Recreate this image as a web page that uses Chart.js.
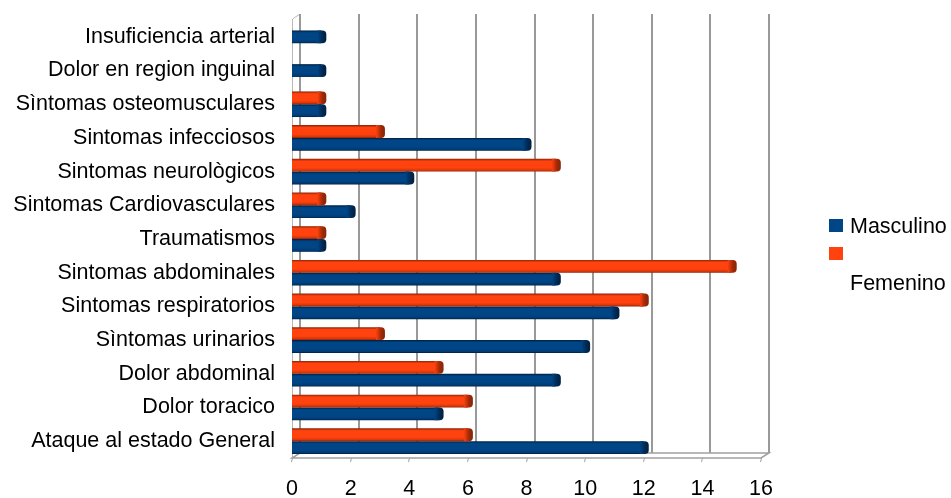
<!DOCTYPE html>
<html>
<head>
<meta charset="utf-8">
<script src="https://cdn.jsdelivr.net/npm/chart.js@4/dist/chart.umd.min.js"></script>
<style>
  html, body { margin: 0; padding: 0; background: #ffffff; }
  #wrap { position: relative; width: 951px; height: 498px; }
  canvas { position: absolute; left: 0; top: 0; }
  .lg { position: absolute; font-family: "Liberation Sans", Arial, sans-serif; font-size: 21.5px; color: #000; line-height: 1; }
  .sw { position: absolute; width: 14px; height: 13px; }
</style>
</head>
<body>
<div id="wrap">
  <canvas id="c" width="951" height="498"></canvas>
  <div class="sw" style="left:829px; top:219px; background:#004586;"></div>
  <div class="lg" style="left:850px; top:216px;">Masculino</div>
  <div class="sw" style="left:829px; top:247px; background:#ff420e;"></div>
  <div class="lg" style="left:850px; top:273px;">Femenino</div>
</div>
<script>
// Motivos de consulta por sexo
const categories = [
  'Insuficiencia arterial',
  'Dolor en region inguinal',
  'Sìntomas osteomusculares',
  'Sintomas infecciosos',
  'Sintomas neurològicos',
  'Sintomas Cardiovasculares',
  'Traumatismos',
  'Sintomas abdominales',
  'Sintomas respiratorios',
  'Sìntomas urinarios',
  'Dolor abdominal',
  'Dolor toracico',
  'Ataque al estado General'
];
const masculino = [1, 1, 1, 8, 4, 2, 1, 9, 11, 10, 9, 5, 12];
const femenino  = [null, null, 1, 3, 9, 1, 1, 15, 12, 3, 5, 6, 6];
const xTickValues = [0, 2, 4, 6, 8, 10, 12, 14, 16];

const FONT = '"Liberation Sans", Arial, sans-serif';
const FONT_SIZE = 21.5;
const DEPTH_X = 8, DEPTH_Y = 5;   // offset of the back wall
const CAP = 5;                    // depth of the bar end face

// back wall grid, floor and axis ticks
const frame = {
  id: 'frame',
  beforeDatasetsDraw(chart) {
    const { ctx, chartArea: a, scales: { x } } = chart;
    const top = a.top - 6;
    const floorBack = a.bottom - DEPTH_Y;
    ctx.save();
    // front left edge
    ctx.strokeStyle = '#b8b8b8';
    ctx.lineWidth = 1;
    ctx.beginPath();
    ctx.moveTo(a.left + 0.5, top + DEPTH_Y);
    ctx.lineTo(a.left + 0.5, a.bottom);
    ctx.moveTo(a.left + 0.5, top + DEPTH_Y);
    ctx.lineTo(a.left + DEPTH_X, top);
    ctx.stroke();
    // vertical grid on the back wall
    ctx.strokeStyle = '#999999';
    ctx.lineWidth = 2;
    xTickValues.forEach(v => {
      const px = Math.round(x.getPixelForValue(v)) + DEPTH_X;
      ctx.beginPath();
      ctx.moveTo(px, top);
      ctx.lineTo(px, floorBack);
      ctx.stroke();
    });
    // floor
    ctx.strokeStyle = '#a0a0a0';
    ctx.lineWidth = 1.5;
    ctx.beginPath();
    ctx.moveTo(a.left + DEPTH_X, floorBack);
    ctx.lineTo(a.right + DEPTH_X, floorBack);
    ctx.lineTo(a.right, a.bottom);
    ctx.lineTo(a.left, a.bottom);
    ctx.closePath();
    ctx.stroke();
    // tick marks on the front edge
    ctx.lineWidth = 1;
    xTickValues.forEach(v => {
      const px = Math.round(x.getPixelForValue(v)) + 0.5;
      ctx.beginPath();
      ctx.moveTo(px, a.bottom);
      ctx.lineTo(px - 1, a.bottom + 4);
      ctx.stroke();
    });
    ctx.restore();
  }
};

// shaded bars with a darker rounded end face
const palette = [
  { dark: '#8a2205', base: '#ff420e', low: '#d8360a', cap: '#a02a08' },
  { dark: '#001f3f', base: '#004586', low: '#003a72', cap: '#002a55' }
];
const shade = {
  id: 'shade',
  beforeDatasetsDraw(chart) {
    const ctx = chart.ctx;
    chart.data.datasets.forEach((ds, di) => {
      const meta = chart.getDatasetMeta(di);
      const p = palette[di];
      meta.data.forEach((el, i) => {
        if (ds.data[i] == null || el.height == null) return;
        const y0 = el.y - el.height / 2, y1 = el.y + el.height / 2;
        const g = ctx.createLinearGradient(0, y0, 0, y1);
        g.addColorStop(0, p.dark);
        g.addColorStop(0.18, p.base);
        g.addColorStop(0.7, p.base);
        g.addColorStop(0.9, p.low);
        g.addColorStop(1, p.dark);
        el.options = Object.assign({}, el.options, { backgroundColor: g });
      });
    });
  },
  afterDatasetsDraw(chart) {
    const ctx = chart.ctx;
    ctx.save();
    chart.data.datasets.forEach((ds, di) => {
      const meta = chart.getDatasetMeta(di);
      const p = palette[di];
      meta.data.forEach((el, i) => {
        if (ds.data[i] == null || el.height == null || el.x == null) return;
        const y0 = el.y - el.height / 2, h = el.height;
        const x0 = el.x - 4, w = 4 + CAP;
        const g = ctx.createLinearGradient(x0, 0, x0 + w, 0);
        g.addColorStop(0, p.base);
        g.addColorStop(0.55, p.cap);
        g.addColorStop(1, p.dark);
        ctx.fillStyle = g;
        ctx.beginPath();
        ctx.roundRect(x0, y0, w, h, [0, 4, 4, 0]);
        ctx.fill();
      });
    });
    ctx.restore();
  }
};

new Chart(document.getElementById('c'), {
  type: 'bar',
  data: {
    labels: categories,
    datasets: [
      { label: 'Femenino', data: femenino, backgroundColor: '#ff420e' },
      { label: 'Masculino', data: masculino, backgroundColor: '#004586' }
    ]
  },
  options: {
    indexAxis: 'y',
    responsive: false,
    animation: false,
    events: [],
    layout: { padding: { top: 20, right: 190, left: 0, bottom: 0 } },
    datasets: {
      bar: {
        categoryPercentage: 0.76,
        barPercentage: 1,
        maxBarThickness: 12.8,
        skipNull: true,
        borderWidth: 0,
        borderRadius: 0,
        borderSkipped: 'start'
      }
    },
    plugins: { legend: { display: false }, tooltip: { enabled: false } },
    scales: {
      x: {
        min: 0, max: 16,
        grid: { display: false, drawTicks: false },
        border: { display: false },
        afterBuildTicks(s) { s.ticks = xTickValues.map(v => ({ value: v })); },
        afterFit(s) { s.height = 40; },
        ticks: { color: '#000', padding: 18, font: { family: FONT, size: FONT_SIZE } }
      },
      y: {
        grid: { display: false, drawTicks: false },
        border: { display: false },
        afterFit(s) { s.width = 292; s.paddingTop = 0; s.paddingBottom = 0; },
        ticks: { color: '#000', padding: 17, autoSkip: false, font: { family: FONT, size: FONT_SIZE } }
      }
    }
  },
  plugins: [frame, shade]
});
</script>
</body>
</html>
